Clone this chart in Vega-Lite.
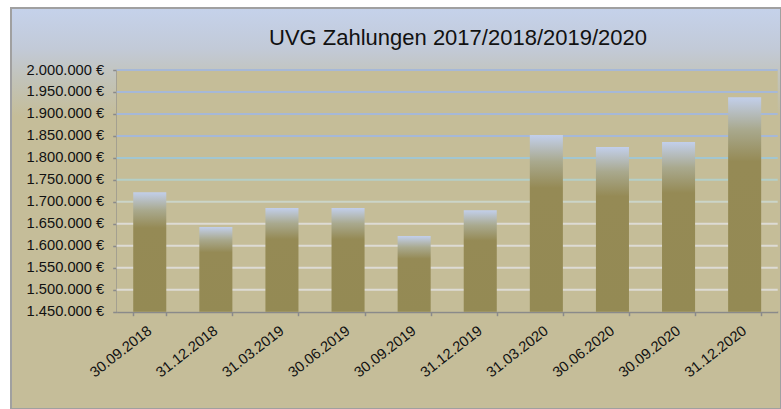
{
  "$schema": "https://vega.github.io/schema/vega-lite/v6.json",
  "width": 770,
  "height": 401,
  "autosize": {"type": "none"},
  "padding": {"left": 11, "top": 8, "right": 0, "bottom": 0},
  "background": "#ffffff",
  "config": {
    "font": "Liberation Sans",
    "view": {
      "fill": {
        "gradient": "linear", "x1": 0, "y1": 0, "x2": 0, "y2": 1,
        "stops": [
          {"offset": 0, "color": "#c5d2eb"},
          {"offset": 0.1, "color": "#c2cad8"},
          {"offset": 0.18, "color": "#c2c3b8"},
          {"offset": 0.27, "color": "#c5bd99"},
          {"offset": 1, "color": "#c5bd99"}
        ]
      },
      "stroke": "#a0a0a0",
      "strokeWidth": 2
    }
  },
  "title": {
    "text": "UVG Zahlungen 2017/2018/2019/2020",
    "fontSize": 22,
    "fontWeight": "normal",
    "color": "#111111",
    "font": "Liberation Sans",
    "anchor": "middle",
    "dx": 62,
    "offset": -59,
    "baseline": "alphabetic"
  },
  "datasets": {
    "pay": [
      {"date": "30.09.2018", "value": 1722000},
      {"date": "31.12.2018", "value": 1643000},
      {"date": "31.03.2019", "value": 1686000},
      {"date": "30.06.2019", "value": 1686000},
      {"date": "30.09.2019", "value": 1622000},
      {"date": "31.12.2019", "value": 1681000},
      {"date": "31.03.2020", "value": 1852000},
      {"date": "30.06.2020", "value": 1825000},
      {"date": "30.09.2020", "value": 1836000},
      {"date": "31.12.2020", "value": 1938000}
    ],
    "grid": [
      {"v": 1500000}, {"v": 1550000}, {"v": 1600000}, {"v": 1650000},
      {"v": 1700000}, {"v": 1750000}, {"v": 1800000}, {"v": 1850000},
      {"v": 1900000}, {"v": 1950000}, {"v": 2000000}
    ]
  },
  "layer": [
    {
      "data": {"values": [{"area": "plot"}]},
      "mark": {"type": "rect", "fill": "#c5bd98"},
      "encoding": {
        "x": {"datum": 0, "type": "quantitative", "scale": {"domain": [0, 1], "range": [105.7, 766.7]}, "axis": null},
        "x2": {"datum": 1},
        "y": {
          "datum": 2000000, "type": "quantitative",
          "scale": {"domain": [1450000, 2000000], "range": [303.7, 62], "zero": false, "nice": false},
          "axis": {
            "values": [1450000, 1500000, 1550000, 1600000, 1650000, 1700000, 1750000, 1800000, 1850000, 1900000, 1950000, 2000000],
            "labelExpr": "replace(format(datum.value, ',.0f'), /,/g, '.') + ' €'",
            "offset": -105.7, "grid": false,
            "domainColor": "#8a8a8a", "domainWidth": 2,
            "tickColor": "#8a8a8a", "tickSize": 4, "tickWidth": 1.5,
            "labelFontSize": 14.7, "labelColor": "#111111", "labelPadding": 9,
            "title": null
          }
        },
        "y2": {"datum": 1450000}
      }
    },
    {
      "data": {"name": "grid"},
      "mark": {"type": "rule", "strokeWidth": 2},
      "encoding": {
        "x": {"datum": 0, "type": "quantitative", "scale": {"domain": [0, 1], "range": [105.7, 766.7]}, "axis": null},
        "x2": {"datum": 1},
        "y": {
          "field": "v", "type": "quantitative",
          "scale": {"domain": [1450000, 2000000], "range": [303.7, 62], "zero": false, "nice": false},
          "axis": {
            "values": [1450000, 1500000, 1550000, 1600000, 1650000, 1700000, 1750000, 1800000, 1850000, 1900000, 1950000, 2000000],
            "labelExpr": "replace(format(datum.value, ',.0f'), /,/g, '.') + ' €'",
            "offset": -105.7, "grid": false,
            "domainColor": "#8a8a8a", "domainWidth": 2,
            "tickColor": "#8a8a8a", "tickSize": 4, "tickWidth": 1.5,
            "labelFontSize": 14.7, "labelColor": "#111111", "labelPadding": 9,
            "title": null
          }
        },
        "color": {"field": "v", "type": "quantitative", "scale": {"domain": [1650000, 1850000], "range": ["#dddbd4", "#a6b8d7"], "clamp": true}, "legend": null}
      }
    },
    {
      "data": {"name": "pay"},
      "mark": {
        "type": "bar",
        "fill": {
          "gradient": "linear", "x1": 0, "y1": 0, "x2": 0, "y2": 1,
          "stops": [
            {"offset": 0, "color": "#c2cfeb"},
            {"offset": 0.15, "color": "#a9a98e"},
            {"offset": 0.3, "color": "#958a55"},
            {"offset": 1, "color": "#948a54"}
          ]
        }
      },
      "encoding": {
        "x": {
          "field": "date", "type": "nominal", "sort": null,
          "scale": {"range": [105.7, 766.7], "paddingInner": 0.5, "paddingOuter": 0.25},
          "axis": {
            "orient": "bottom", "offset": -97.3, "tickBand": "extent",
            "domainColor": "#8a8a8a", "domainWidth": 2,
            "tickColor": "#8a8a8a", "tickSize": 4, "tickWidth": 1.5,
            "labelAngle": -38, "labelFontSize": 14.7, "labelColor": "#111111",
            "labelPadding": 7, "labelOffset": -5, "title": null
          }
        },
        "y": {
          "field": "value", "type": "quantitative",
          "scale": {"domain": [1450000, 2000000], "range": [303.7, 62], "zero": false, "nice": false},
          "axis": {
            "values": [1450000, 1500000, 1550000, 1600000, 1650000, 1700000, 1750000, 1800000, 1850000, 1900000, 1950000, 2000000],
            "labelExpr": "replace(format(datum.value, ',.0f'), /,/g, '.') + ' €'",
            "offset": -105.7, "grid": false,
            "domainColor": "#8a8a8a", "domainWidth": 2,
            "tickColor": "#8a8a8a", "tickSize": 4, "tickWidth": 1.5,
            "labelFontSize": 14.7, "labelColor": "#111111", "labelPadding": 9,
            "title": null
          }
        },
        "y2": {"datum": 1450000}
      }
    }
  ],
  "resolve": {"scale": {"x": "independent", "color": "independent"}, "axis": {"x": "independent"}}
}
